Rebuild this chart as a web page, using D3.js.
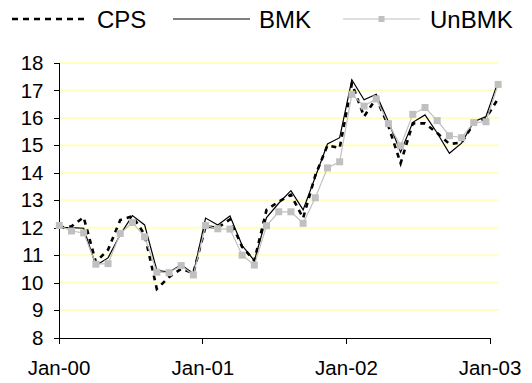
<!DOCTYPE html>
<html>
<head>
<meta charset="utf-8">
<script src="https://cdn.jsdelivr.net/npm/d3@7"></script>
<style>
  html, body { margin: 0; padding: 0; background: #fff; }
  svg { display: block; }
  text { font-family: "Liberation Sans", Arial, sans-serif; fill: #000; }
</style>
</head>
<body>
<svg id="chart" width="532" height="383"></svg>
<script>
// Observation dates (one reading roughly every 31 days)
const dates = [
  "2000-01-03","2000-02-03","2000-03-05","2000-04-05","2000-05-06","2000-06-06",
  "2000-07-07","2000-08-07","2000-09-07","2000-10-08","2000-11-08","2000-12-09",
  "2001-01-09","2001-02-09","2001-03-12","2001-04-12","2001-05-13","2001-06-13",
  "2001-07-14","2001-08-14","2001-09-14","2001-10-15","2001-11-15","2001-12-16",
  "2002-01-16","2002-02-16","2002-03-19","2002-04-19","2002-05-20","2002-06-20",
  "2002-07-21","2002-08-21","2002-09-21","2002-10-22","2002-11-22","2002-12-23",
  "2003-01-23"
];

const cps = [
  12.0, 12.05, 12.38, 10.75, 11.2, 12.28, 12.42, 11.75, 9.77, 10.2, 10.5, 10.35,
  12.05, 12.0, 12.3, 11.3, 10.8, 12.65, 12.95, 13.2, 12.35, 13.9, 15.0, 14.9,
  17.25, 16.05, 16.72, 15.7, 14.35, 15.8, 15.8, 15.45, 15.05, 15.1, 15.8, 16.0,
  16.7
];

const bmk = [
  12.0, 12.0, 11.98, 10.62, 10.9, 11.75, 12.44, 12.1, 10.45, 10.38, 10.65, 10.32,
  12.35, 12.1, 12.43, 11.35, 10.8, 12.37, 12.89, 13.35, 12.65, 13.85, 15.05, 15.28,
  17.39, 16.66, 16.86, 15.86, 14.75, 15.84, 16.11, 15.45, 14.71, 15.08, 15.86, 16.05,
  17.32
];

const unbmk = [
  12.08, 11.88, 11.81, 10.67, 10.69, 11.79, 12.19, 11.67, 10.38, 10.36, 10.62, 10.28,
  12.08, 11.96, 11.95, 11.0, 10.64, 12.07, 12.58, 12.58, 12.16, 13.09, 14.18, 14.40,
  16.86, 16.43, 16.69, 15.79, 14.98, 16.13, 16.38, 15.90, 15.35, 15.28, 15.83, 15.86,
  17.22
];

const yTicks = [8, 9, 10, 11, 12, 13, 14, 15, 16, 17, 18];
const xTicks = ["2000-01-01", "2001-01-01", "2002-01-01", "2003-01-01"];
const seriesNames = ["CPS", "BMK", "UnBMK"];

const parse = d3.utcParse("%Y-%m-%d");
const when = dates.map(parse);
const xTickDates = xTicks.map(parse);

const svg = d3.select("#chart");

const x = d3.scaleUtc()
  .domain([xTickDates[0], xTickDates[xTickDates.length - 1]])
  .range([58.5, 489.5]);

const y = d3.scaleLinear()
  .domain([8, 18])
  .range([337.5, 63]);

const gridRight = x(when[when.length - 1]) + 0.5;

// horizontal gridlines
svg.append("g")
  .selectAll("line")
  .data(yTicks.filter(v => v > 8))
  .join("line")
  .attr("x1", x.range()[0])
  .attr("x2", gridRight)
  .attr("y1", d => y(d))
  .attr("y2", d => y(d))
  .attr("stroke", "#ffffc0")
  .attr("stroke-width", 2);

// y axis
const yAxis = svg.append("g")
  .attr("transform", `translate(${x.range()[0]},0)`)
  .call(d3.axisLeft(y).tickValues(yTicks).tickSize(5).tickPadding(10).tickFormat(d3.format("d")));
yAxis.selectAll("path, line").attr("stroke", "#000").attr("shape-rendering", "crispEdges");
yAxis.selectAll("text")
  .style("font-family", "'Liberation Sans', Arial, sans-serif")
  .style("font-size", "20.5px")
  .attr("fill", "#000");

// x axis
const xAxis = svg.append("g")
  .attr("transform", `translate(0,${y(8)})`)
  .call(d3.axisBottom(x).tickValues(xTickDates).tickSize(6).tickSizeOuter(0).tickPadding(17)
    .tickFormat(d3.utcFormat("%b-%y")));
xAxis.selectAll("path, line").attr("stroke", "#000").attr("shape-rendering", "crispEdges");
xAxis.selectAll("text")
  .style("font-family", "'Liberation Sans', Arial, sans-serif")
  .style("font-size", "20.5px")
  .attr("fill", "#000");

const lineOf = vals => d3.line()
  .x((d, i) => x(when[i]))
  .y(d => y(d))(vals);

const cpsDash = "5,5";

// CPS: thick dashed black
svg.append("path")
  .attr("d", lineOf(cps))
  .attr("fill", "none")
  .attr("stroke", "#000")
  .attr("stroke-width", 2.6)
  .attr("stroke-dasharray", cpsDash);

// BMK: thin solid black
svg.append("path")
  .attr("d", lineOf(bmk))
  .attr("fill", "none")
  .attr("stroke", "#000")
  .attr("stroke-width", 1.2);

// UnBMK: light grey line with square markers
svg.append("path")
  .attr("d", lineOf(unbmk))
  .attr("fill", "none")
  .attr("stroke", "#c0c0c0")
  .attr("stroke-width", 1.2);

const sq = 7;
svg.append("g")
  .selectAll("rect")
  .data(unbmk)
  .join("rect")
  .attr("x", (d, i) => x(when[i]) - sq / 2)
  .attr("y", d => y(d) - sq / 2)
  .attr("width", sq)
  .attr("height", sq)
  .attr("fill", "#c0c0c0");

// legend
const legend = svg.append("g");
const legendY = 19;
const legendItems = [
  { name: seriesNames[0], x1: 12, x2: 88, tx: 97, dash: "6,5", w: 2.6, color: "#000", marker: false },
  { name: seriesNames[1], x1: 173, x2: 250, tx: 259, dash: null, w: 1.2, color: "#000", marker: false },
  { name: seriesNames[2], x1: 343, x2: 420, tx: 430, dash: null, w: 1.2, color: "#c0c0c0", marker: true }
];
legendItems.forEach(it => {
  legend.append("line")
    .attr("x1", it.x1).attr("x2", it.x2)
    .attr("y1", legendY).attr("y2", legendY)
    .attr("stroke", it.color)
    .attr("stroke-width", it.w)
    .attr("stroke-dasharray", it.dash);
  if (it.marker) {
    const cx = (it.x1 + it.x2) / 2;
    legend.append("rect")
      .attr("x", cx - 3).attr("y", legendY - 3)
      .attr("width", 6).attr("height", 6)
      .attr("fill", "#c0c0c0");
  }
  legend.append("text")
    .attr("x", it.tx)
    .attr("y", 28)
    .style("font-size", "24px")
    .text(it.name);
});
</script>
</body>
</html>
